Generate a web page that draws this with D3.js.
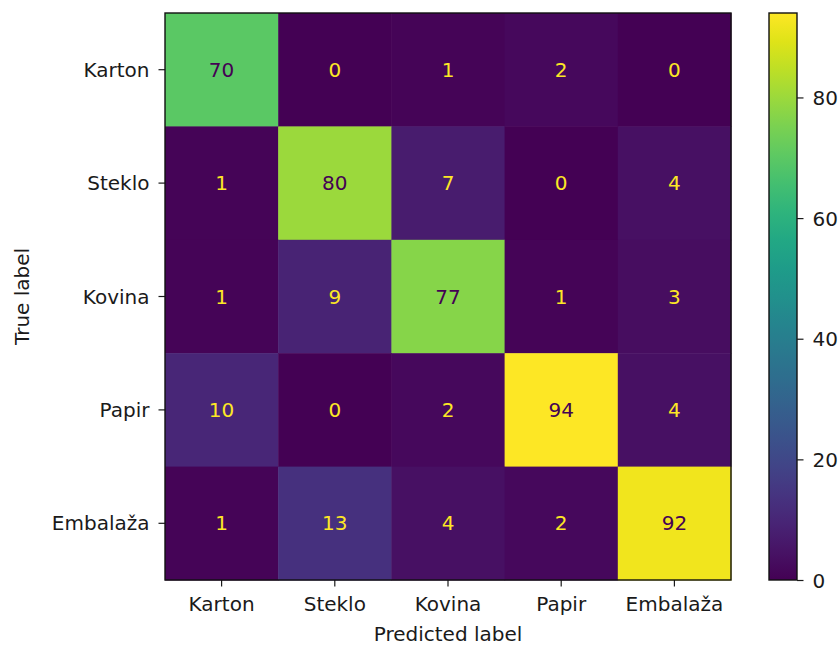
<!DOCTYPE html>
<html>
<head>
<meta charset="utf-8">
<script src="https://cdn.jsdelivr.net/npm/d3@7"></script>
<style>
  html, body { margin: 0; padding: 0; background: #fff; }
  svg { display: block; }
  text { font-family: "DejaVu Sans", sans-serif; fill: #1a1a1a; }
</style>
</head>
<body>
<svg id="chart" width="840" height="646"></svg>
<script>
// Class names (rows = true label, columns = predicted label)
const classes = ["Karton", "Steklo", "Kovina", "Papir", "Embalaža"];

// Confusion-matrix counts, one array per true class
const rowKarton   = [70, 0, 1, 2, 0];
const rowSteklo   = [1, 80, 7, 0, 4];
const rowKovina   = [1, 9, 77, 1, 3];
const rowPapir    = [10, 0, 2, 94, 4];
const rowEmbalaza = [1, 13, 4, 2, 92];
const matrix = [rowKarton, rowSteklo, rowKovina, rowPapir, rowEmbalaza];

// Colorbar tick values
const colorbarTicks = [0, 20, 40, 60, 80];

const xTitle = "Predicted label";
const yTitle = "True label";

const svg = d3.select("#chart");
const fontSize = 20;

const plot = { left: 165, top: 13, right: 731, bottom: 580 };
const cbar = { left: 769, right: 797 };

const allValues = matrix.flat();
const vmin = d3.min(allValues), vmax = d3.max(allValues);

const color = d3.scaleSequential(d3.interpolateViridis).domain([vmin, vmax]);

const x = d3.scaleBand().domain(classes).range([plot.left, plot.right]);
const y = d3.scaleBand().domain(classes).range([plot.top, plot.bottom]);

// Cells
const cells = [];
matrix.forEach((row, i) => row.forEach((v, j) => cells.push({ t: classes[i], p: classes[j], v })));

svg.append("g").selectAll("rect").data(cells).join("rect")
  .attr("x", d => x(d.p))
  .attr("y", d => y(d.t))
  .attr("width", x.bandwidth() + 0.5)
  .attr("height", y.bandwidth() + 0.5)
  .attr("fill", d => color(d.v));

// Annotations: dark text on bright cells, bright text on dark cells
const thresh = (vmin + vmax) / 2;
svg.append("g").selectAll("text").data(cells).join("text")
  .attr("x", d => x(d.p) + x.bandwidth() / 2)
  .attr("y", d => y(d.t) + y.bandwidth() / 2 + 7)
  .attr("text-anchor", "middle")
  .style("font-size", fontSize + "px")
  .style("fill", d => d.v < thresh ? color(vmax) : color(vmin))
  .text(d => d.v);

// Axes
const xAxis = d3.axisBottom(x).tickSize(6.5).tickPadding(4);
const gx = svg.append("g").attr("transform", `translate(0,${plot.bottom})`).call(xAxis);
const yAxis = d3.axisLeft(y).tickSize(6.5).tickPadding(9);
const gy = svg.append("g").attr("transform", `translate(${plot.left},0)`).call(yAxis);

[gx, gy].forEach(g => {
  g.select(".domain").remove();
  g.selectAll(".tick line").attr("stroke", "#1a1a1a").attr("stroke-width", 1.2);
  g.selectAll(".tick text")
    .style("font-size", fontSize + "px")
    .style("font-family", "'DejaVu Sans', sans-serif")
    .attr("fill", "#1a1a1a");
});
gx.selectAll(".tick text").attr("dy", null).attr("y", 31);
gy.selectAll(".tick text").attr("dy", null).attr("y", 7);

// Frame around the matrix
svg.append("rect")
  .attr("x", plot.left).attr("y", plot.top)
  .attr("width", plot.right - plot.left).attr("height", plot.bottom - plot.top)
  .attr("fill", "none").attr("stroke", "#111").attr("stroke-width", 1.4);

// Axis titles
svg.append("text")
  .attr("x", (plot.left + plot.right) / 2).attr("y", 641)
  .attr("text-anchor", "middle")
  .style("font-size", fontSize + "px")
  .text(xTitle);

svg.append("text")
  .attr("transform", `translate(29,${(plot.top + plot.bottom) / 2}) rotate(-90)`)
  .attr("text-anchor", "middle")
  .style("font-size", fontSize + "px")
  .text(yTitle);

// Colorbar
const defs = svg.append("defs");
const grad = defs.append("linearGradient").attr("id", "cbarGrad")
  .attr("x1", 0).attr("y1", 1).attr("x2", 0).attr("y2", 0);
d3.range(0, 1.0001, 0.05).forEach(t => {
  grad.append("stop").attr("offset", t).attr("stop-color", d3.interpolateViridis(t));
});

svg.append("rect")
  .attr("x", cbar.left).attr("y", plot.top)
  .attr("width", cbar.right - cbar.left).attr("height", plot.bottom - plot.top)
  .attr("fill", "url(#cbarGrad)")
  .attr("stroke", "#111").attr("stroke-width", 1.4);

const cy = d3.scaleLinear().domain([vmin, vmax]).range([plot.bottom, plot.top]);
const gc = svg.append("g").attr("transform", `translate(${cbar.right},0)`)
  .call(d3.axisRight(cy).tickValues(colorbarTicks).tickSize(6.5).tickPadding(9));
gc.select(".domain").remove();
gc.selectAll(".tick line").attr("stroke", "#1a1a1a").attr("stroke-width", 1.2);
gc.selectAll(".tick text")
  .style("font-size", fontSize + "px")
  .style("font-family", "'DejaVu Sans', sans-serif")
  .attr("fill", "#1a1a1a")
  .attr("dy", null).attr("y", 7);
</script>
</body>
</html>
